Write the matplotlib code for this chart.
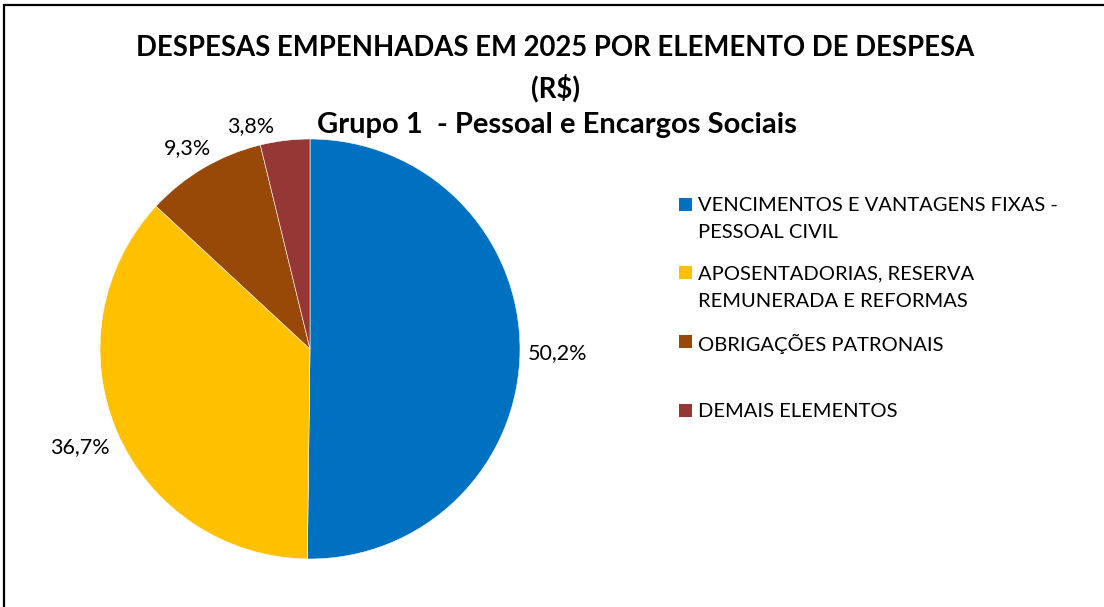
import matplotlib
matplotlib.use("Agg")
import matplotlib.pyplot as plt
from matplotlib.patches import Rectangle
import numpy as np

plt.rcParams['font.family'] = ['Lato', 'DejaVu Sans']

categories = [
    "VENCIMENTOS E VANTAGENS FIXAS -\nPESSOAL CIVIL",
    "APOSENTADORIAS, RESERVA\nREMUNERADA E REFORMAS",
    "OBRIGAÇÕES PATRONAIS",
    "DEMAIS ELEMENTOS",
]
shares = [50.2, 36.7, 9.3, 3.8]
colors = ["#0070C0", "#FFC000", "#984807", "#953735"]

W, H = 1104, 607
fig = plt.figure(figsize=(W / 100, H / 100), dpi=100)

# outer frame (only top and left edges visible in the reference)
fig.patches.append(Rectangle((4 / W, -0.1), 1.2, 1 - 4.5 / H + 0.1, transform=fig.transFigure,
                             fill=False, edgecolor="black", linewidth=1.6))

# pie axes: center (310, 349) px, radius 210 px
cx, cy, r = 310, 349, 210
ax = fig.add_axes([(cx - r) / W, (H - cy - r) / H, 2 * r / W, 2 * r / H])
wedges, _ = ax.pie(shares, colors=colors, startangle=90, counterclock=False,
                   wedgeprops=dict(linewidth=0.4, edgecolor="white"))
ax.set_xlim(-1, 1)
ax.set_ylim(-1, 1)
ax.set_aspect("equal")
ax.axis("off")

# percentage labels outside the slices
dist = [1.18, 1.19, 1.12, 1.10]
shift = [-0.5, 0, 1.0, 8]
for w, v, d, s in zip(wedges, shares, dist, shift):
    ang = np.deg2rad((w.theta1 + w.theta2) / 2 + s)
    ax.text(d * np.cos(ang), d * np.sin(ang), f"{v:.1f}%".replace(".", ","),
            ha="center", va="center", fontsize=15.5, clip_on=False)

# titles
fig.text(555 / W, 1 - 48 / H, "DESPESAS EMPENHADAS EM 2025 POR ELEMENTO DE DESPESA",
         ha="center", va="center", fontsize=19.8, fontweight="bold")
fig.text(555 / W, 1 - 88 / H, "(R$)", ha="center", va="center", fontsize=19.8, fontweight="bold")
fig.text(557 / W, 1 - 125 / H, "Grupo 1  - Pessoal e Encargos Sociais",
         ha="center", va="center", fontsize=21, fontweight="bold")

# legend
y0, step = 204, 68.7
for i, (lab, col) in enumerate(zip(categories, colors)):
    y = y0 + i * step
    fig.patches.append(Rectangle((679 / W, 1 - (y + 6.5) / H), 13 / W, 13 / H,
                                 transform=fig.transFigure, facecolor=col, edgecolor="none"))
    fig.text(698 / W, 1 - (y - 7) / H, lab, ha="left", va="top", fontsize=14.5,
             linespacing=1.72)

fig.savefig("out.png", dpi=100)
